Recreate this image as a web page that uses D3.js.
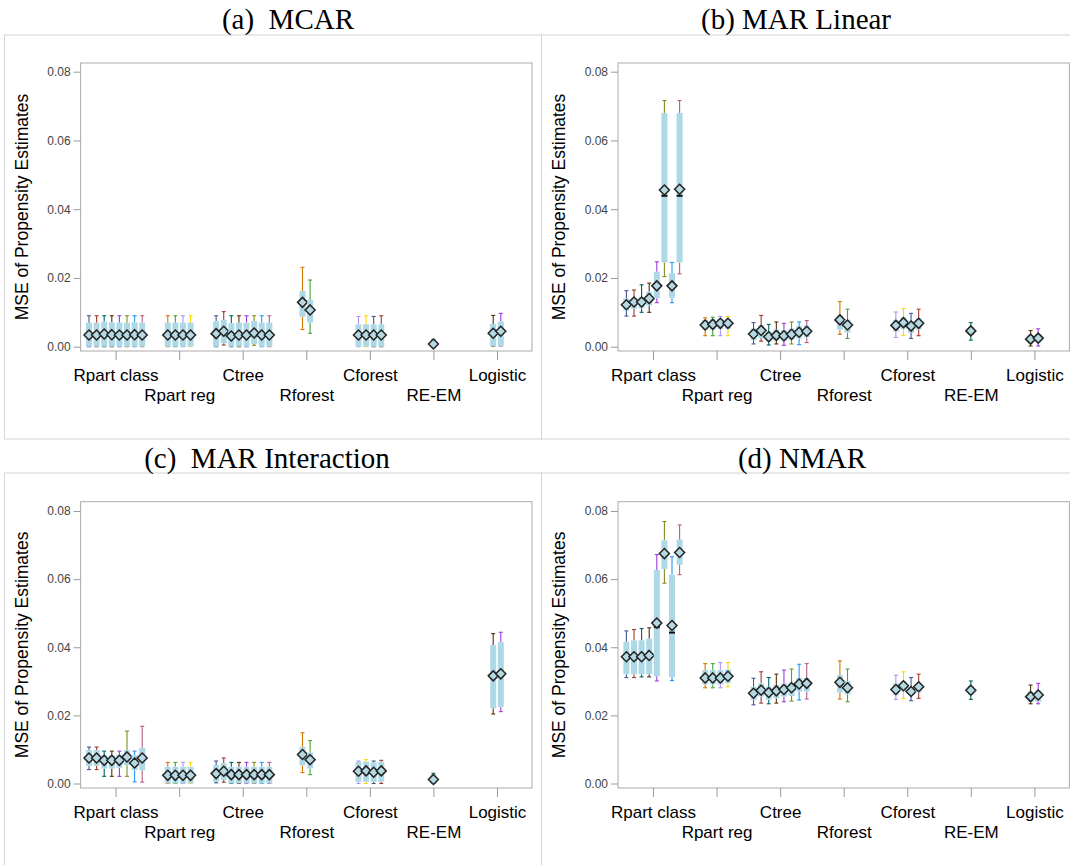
<!DOCTYPE html>
<html>
<head>
<meta charset="utf-8">
<script src="https://cdn.jsdelivr.net/npm/d3@7"></script>
<style>
  body { margin: 0; background: #fff; }
  svg { display: block; }
</style>
</head>
<body>
<svg width="1070" height="865"></svg>
<script>
// categories and how many boxes sit in each cluster
const categories = ['Rpart class', 'Rpart reg', 'Ctree', 'Rforest', 'Cforest', 'RE-EM', 'Logistic'];
const boxCounts = [8, 4, 8, 2, 4, 1, 2];
const yTicks = [0, 0.02, 0.04, 0.06, 0.08];
const titles = ['(a)  MCAR', '(b) MAR Linear', '(c)  MAR Interaction', '(d) NMAR'];

// whisker colours, cycling through the boxes in order
const whiskerColors = ['#445694', '#A23A2E', '#01665E', '#543005', '#9D3CDB', '#7F8E1F',
  '#2597FA', '#B26084', '#D17800', '#47A82A', '#B38EF3', '#F9DA04'];

// each row: [low whisker, q1, median, q3, high whisker, mean]
const mcar = [
  [0, 0, .0031, .0070, .0090, .0034], [0, 0, .0031, .0070, .0090, .0034],
  [0, 0, .0034, .0073, .0090, .0037], [0, 0, .0032, .0071, .0090, .0035],
  [0, 0, .0031, .0070, .0090, .0034], [0, 0, .0031, .0070, .0090, .0034],
  [0, 0, .0032, .0071, .0090, .0035], [0, 0, .0031, .0070, .0090, .0034],
  [0, 0, .0031, .0070, .0090, .0034], [0, 0, .0031, .0070, .0090, .0034],
  [0, 0, .0031, .0070, .0090, .0034], [0, 0, .0031, .0070, .0090, .0034],
  [0, 0, .0035, .0074, .0090, .0038], [.0005, .0010, .0042, .0078, .0102, .0045],
  [0, 0, .0028, .0068, .0090, .0031], [0, 0, .0031, .0070, .0090, .0034],
  [0, 0, .0031, .0070, .0090, .0034], [.0004, .0008, .0038, .0075, .0090, .0040],
  [0, 0, .0031, .0070, .0090, .0034], [0, 0, .0031, .0070, .0090, .0034],
  [.0050, .0087, .0125, .0162, .0231, .0129], [.0039, .0070, .0104, .0136, .0194, .0107],
  [0, 0, .0031, .0065, .0088, .0034], [0, 0, .0031, .0065, .0090, .0034],
  [0, 0, .0031, .0065, .0088, .0034], [0, 0, .0031, .0065, .0090, .0034],
  [0, 0, .0007, .0017, .0021, .0008],
  [.0002, .0002, .0036, .0066, .0091, .0039], [.0002, .0002, .0042, .0073, .0097, .0045]
];

const marLinear = [
  [.0089, .0105, .0120, .0140, .0163, .0122], [.0089, .0110, .0128, .0142, .0165, .0130],
  [.0100, .0112, .0128, .0145, .0180, .0130], [.0100, .0120, .0137, .0160, .0185, .0140],
  [.0128, .0141, .0172, .0218, .0247, .0177], [.0204, .0245, .0439, .0680, .0716, .0456],
  [.0128, .0143, .0172, .0214, .0245, .0177], [.0212, .0245, .0439, .0680, .0716, .0458],
  [.0032, .0049, .0062, .0078, .0084, .0063], [.0032, .0050, .0064, .0080, .0086, .0065],
  [.0032, .0052, .0067, .0081, .0088, .0068], [.0032, .0052, .0067, .0081, .0088, .0068],
  [.0008, .0019, .0036, .0053, .0070, .0037], [.0016, .0025, .0045, .0063, .0091, .0047],
  [.0005, .0015, .0028, .0045, .0065, .0029], [.0008, .0018, .0032, .0050, .0072, .0033],
  [.0004, .0017, .0031, .0049, .0068, .0032], [.0008, .0020, .0035, .0053, .0072, .0036],
  [.0006, .0024, .0041, .0060, .0072, .0042], [.0012, .0027, .0044, .0062, .0076, .0045],
  [.0036, .0050, .0077, .0091, .0131, .0078], [.0024, .0041, .0062, .0078, .0109, .0063],
  [.0027, .0044, .0061, .0078, .0101, .0062], [.0033, .0052, .0069, .0085, .0111, .0070],
  [.0024, .0040, .0059, .0075, .0097, .0060], [.0032, .0050, .0067, .0083, .0109, .0068],
  [.0019, .0034, .0045, .0056, .0070, .0046],
  [.0002, .0010, .0021, .0034, .0047, .0022], [.0002, .0012, .0024, .0036, .0052, .0025]
];

const marInteraction = [
  [.0041, .0052, .0073, .0098, .0107, .0075], [.0041, .0052, .0073, .0098, .0107, .0075],
  [.0021, .0044, .0066, .0083, .0095, .0068], [.0021, .0044, .0066, .0083, .0095, .0068],
  [.0021, .0046, .0066, .0085, .0095, .0068], [.0021, .0054, .0076, .0098, .0154, .0078],
  [.0005, .0039, .0058, .0083, .0095, .0060], [.0004, .0039, .0073, .0105, .0168, .0075],
  [0, 0, .0022, .0049, .0062, .0024], [0, 0, .0022, .0049, .0062, .0024],
  [0, 0, .0022, .0049, .0062, .0024], [0, 0, .0022, .0049, .0062, .0024],
  [.0002, .0005, .0027, .0054, .0066, .0029], [.0004, .0010, .0034, .0059, .0075, .0036],
  [0, 0, .0024, .0049, .0062, .0026], [0, 0, .0024, .0049, .0062, .0026],
  [0, 0, .0024, .0049, .0062, .0026], [0, 0, .0024, .0049, .0062, .0026],
  [0, 0, .0024, .0049, .0062, .0026], [0, 0, .0024, .0049, .0062, .0026],
  [.0032, .0053, .0083, .0107, .0149, .0085], [.0026, .0044, .0068, .0091, .0126, .0070],
  [0, .0005, .0034, .0063, .0066, .0036], [0, .0005, .0035, .0064, .0070, .0037],
  [0, .0005, .0031, .0062, .0066, .0033], [0, .0005, .0035, .0064, .0068, .0037],
  [0, 0, .0011, .0027, .0030, .0012],
  [.0204, .0221, .0311, .0406, .0440, .0316], [.0211, .0225, .0317, .0415, .0444, .0322]
];

const nmar = [
  [.0311, .0321, .0367, .0416, .0448, .0372], [.0311, .0321, .0367, .0420, .0452, .0372],
  [.0313, .0321, .0367, .0420, .0455, .0372], [.0313, .0321, .0370, .0425, .0457, .0376],
  [.0301, .0315, .0459, .0627, .0672, .0471], [.0588, .0630, .0672, .0714, .0769, .0675],
  [.0302, .0313, .0443, .0613, .0666, .0464], [.0613, .0642, .0675, .0716, .0759, .0678],
  [.0281, .0291, .0308, .0333, .0352, .0310], [.0281, .0291, .0308, .0333, .0352, .0310],
  [.0281, .0291, .0308, .0333, .0355, .0310], [.0284, .0295, .0313, .0335, .0355, .0315],
  [.0231, .0245, .0263, .0284, .0309, .0265], [.0236, .0255, .0272, .0294, .0328, .0274],
  [.0234, .0246, .0265, .0284, .0311, .0267], [.0236, .0250, .0270, .0289, .0321, .0272],
  [.0240, .0255, .0274, .0294, .0333, .0276], [.0242, .0257, .0279, .0296, .0336, .0281],
  [.0245, .0270, .0290, .0310, .0350, .0292], [.0248, .0270, .0292, .0310, .0352, .0294],
  [.0248, .0267, .0295, .0318, .0360, .0297], [.0240, .0262, .0279, .0301, .0336, .0281],
  [.0247, .0260, .0274, .0294, .0318, .0276], [.0250, .0270, .0285, .0301, .0328, .0287],
  [.0243, .0260, .0268, .0282, .0311, .0270], [.0250, .0267, .0282, .0294, .0321, .0284],
  [.0247, .0260, .0272, .0287, .0301, .0274],
  [.0234, .0240, .0253, .0270, .0289, .0255], [.0234, .0240, .0258, .0273, .0294, .0260]
];

const panelData = [mcar, marLinear, marInteraction, nmar];

const svg = d3.select('svg');

// panel frames
const frames = [[4.5, 35, 537, 404], [541.5, 35, 540, 404], [4.5, 473, 537, 400], [541.5, 473, 540, 400]];
frames.forEach(f => {
  svg.append('rect').attr('x', f[0]).attr('y', f[1]).attr('width', f[2]).attr('height', f[3])
    .attr('fill', 'none').attr('stroke', '#d4d4d4').attr('stroke-width', 1);
});

// title positions, panel origins, y pixel range of each panel (local)
const titlePos = [[288, 29], [796, 29], [267, 468], [802, 468]];
const origins = [[0, 0], [537.4, 0], [0, 437], [537.4, 437]];
const yRanges = [[346.7, 71.7], [346.7, 71.7], [346.5, 74], [346.5, 74]];
const plotTops = [63, 63, 64.7, 64.7];

const plotL = 80.6, plotR = 532, plotB = 351;
const slot = 7.6, boxW = 6;
const sans = 'Arial, "Liberation Sans", sans-serif';

function drawPanel(k) {
  const data = panelData[k];
  const plotT = plotTops[k];
  const g = svg.append('g').attr('transform', `translate(${origins[k][0]},${origins[k][1]})`);

  const x = d3.scalePoint().domain(categories).range([plotL + 35, plotR - 35]);
  const y = d3.scaleLinear().domain([0, 0.08]).range(yRanges[k]);

  // plot frame
  g.append('rect').attr('x', plotL).attr('y', plotT).attr('width', plotR - plotL).attr('height', plotB - plotT)
    .attr('fill', 'none').attr('stroke', '#ababab').attr('stroke-width', 1);

  // y axis
  const ya = g.append('g').attr('transform', `translate(${plotL},0)`)
    .call(d3.axisLeft(y).tickValues(yTicks).tickFormat(d3.format('.2f')).tickSize(7).tickPadding(3));
  ya.select('.domain').remove();
  ya.selectAll('line').attr('stroke', '#9a9a9a');
  ya.selectAll('text').attr('fill', '#444').style('font-family', sans).style('font-size', '12px');

  // x axis, labels staggered over two rows
  const xa = g.append('g').attr('transform', `translate(0,${plotB})`)
    .call(d3.axisBottom(x).tickSize(9));
  xa.select('.domain').remove();
  xa.selectAll('line').attr('stroke', '#9a9a9a');
  xa.selectAll('text')
    .attr('dy', 0)
    .attr('y', (d, i) => i % 2 === 0 ? 30 : 49.5)
    .attr('fill', '#000')
    .style('font-family', sans).style('font-size', '17px');

  // y label
  g.append('text')
    .attr('transform', `translate(28,${(plotT + plotB) / 2}) rotate(-90)`)
    .attr('text-anchor', 'middle')
    .style('font-family', sans).style('font-size', '17.5px')
    .text('MSE of Propensity Estimates');

  // boxes
  let idx = 0;
  categories.forEach((c, ci) => {
    const n = boxCounts[ci];
    for (let j = 0; j < n; j++) {
      const d = data[idx];
      const col = whiskerColors[idx % whiskerColors.length];
      const cx = x(c) + (j - (n - 1) / 2) * slot;
      const bg = g.append('g');
      // whiskers
      bg.append('line').attr('x1', cx).attr('x2', cx).attr('y1', y(d[4])).attr('y2', y(d[3]))
        .attr('stroke', col).attr('stroke-width', 1.1);
      bg.append('line').attr('x1', cx).attr('x2', cx).attr('y1', y(d[1])).attr('y2', y(d[0]))
        .attr('stroke', col).attr('stroke-width', 1.1);
      [d[0], d[4]].forEach(v => {
        bg.append('line').attr('x1', cx - 2).attr('x2', cx + 2).attr('y1', y(v)).attr('y2', y(v))
          .attr('stroke', col).attr('stroke-width', 1.1);
      });
      // box
      bg.append('rect').attr('x', cx - boxW / 2).attr('width', boxW)
        .attr('y', y(d[3])).attr('height', Math.max(1, y(d[1]) - y(d[3])))
        .attr('fill', '#add8e6');
      // median
      bg.append('line').attr('x1', cx - boxW / 2).attr('x2', cx + boxW / 2)
        .attr('y1', y(d[2])).attr('y2', y(d[2]))
        .attr('stroke', '#111').attr('stroke-width', 2);
      // mean diamond
      const my = y(d[5]);
      bg.append('path')
        .attr('d', `M${cx},${my - 5}L${cx + 5},${my}L${cx},${my + 5}L${cx - 5},${my}Z`)
        .attr('fill', '#b4d9e3').attr('stroke', '#222').attr('stroke-width', 1.5);
      idx++;
    }
  });

  // title
  svg.append('text').attr('x', titlePos[k][0]).attr('y', titlePos[k][1])
    .attr('text-anchor', 'middle')
    .style('white-space', 'pre')
    .style('font-family', '"Times New Roman", "Liberation Serif", serif').style('font-size', '29px')
    .text(titles[k]);
}

for (let k = 0; k < 4; k++) drawPanel(k);
</script>
</body>
</html>
